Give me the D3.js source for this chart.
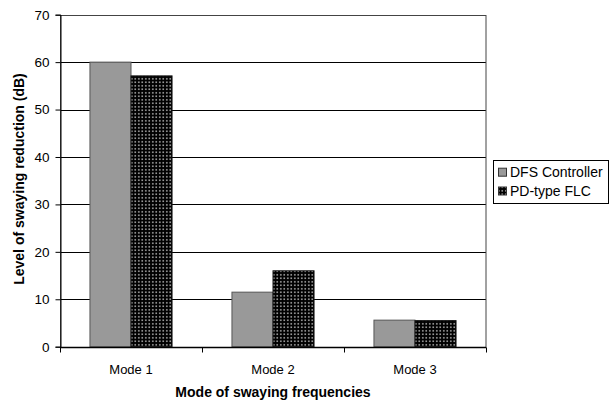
<!DOCTYPE html>
<html><head><meta charset="utf-8">
<script src="https://cdn.jsdelivr.net/npm/d3@7"></script>
<style>body{margin:0;background:#fff;} svg{display:block;font-family:"Liberation Sans",Arial,sans-serif;}</style>
</head><body>
<svg id="c" width="613" height="401"></svg>
<script>
const categories = ["Mode 1", "Mode 2", "Mode 3"];
const seriesNames = ["DFS Controller", "PD-type FLC"];
const dfsValues = [60, 11.5, 5.6];
const pdValues = [57.1, 16.0, 5.5];
const yTicks = [0, 10, 20, 30, 40, 50, 60, 70];

(function(){
const svg = d3.select("#c");
const pLeft = 60, pRight = 486, pTop = 14.7, pBottom = 346.7;
const FONT = "'Liberation Sans', Arial, sans-serif";

const defs = svg.append("defs");
const pat = defs.append("pattern").attr("id","dots").attr("patternUnits","userSpaceOnUse")
  .attr("width",3.5).attr("height",3.5);
pat.append("rect").attr("width",3.5).attr("height",3.5).attr("fill","#000");
pat.append("rect").attr("x",1).attr("y",1).attr("width",1.6).attr("height",1.6).attr("fill","#a8a8a8");

const x0 = d3.scaleBand().domain(categories).range([pLeft, pRight]).paddingInner(0).paddingOuter(0);
const x1 = d3.scaleBand().domain(seriesNames).range([0, x0.bandwidth()]).paddingInner(0).paddingOuter(0.73);
const y = d3.scaleLinear().domain([0, 70]).range([pBottom, pTop]);

svg.append("g").selectAll("line").data(yTicks.filter(d=>d>0)).join("line")
  .attr("x1", pLeft).attr("x2", pRight)
  .attr("y1", d=>Math.round(y(d))+0.5).attr("y2", d=>Math.round(y(d))+0.5)
  .attr("stroke","#000").attr("stroke-width",1);

svg.append("rect").attr("x",pLeft+0.5).attr("y",Math.round(pTop)+0.5)
  .attr("width",pRight-pLeft-0.5).attr("height",Math.round(pBottom)-Math.round(pTop))
  .attr("fill","none").attr("stroke","#444").attr("stroke-width",1);

const data = categories.map((c,i)=>({cat:c, vals:[{s:seriesNames[0], v:dfsValues[i]},{s:seriesNames[1], v:pdValues[i]}]}));
const fills = {"DFS Controller":"#999999","PD-type FLC":"url(#dots)"};

const groups = svg.append("g").selectAll("g").data(data).join("g")
  .attr("transform", d=>`translate(${x0(d.cat)},0)`);
groups.selectAll("rect").data(d=>d.vals).join("rect")
  .attr("x", d=>x1(d.s)).attr("width", x1.bandwidth())
  .attr("y", d=>y(d.v)).attr("height", d=>y(0)-y(d.v))
  .attr("fill", d=>fills[d.s])
  .attr("stroke", d=> d.s==="DFS Controller" ? "#555" : "#111").attr("stroke-width",1);

const yAxis = d3.axisLeft(y).tickValues(yTicks).tickSize(5).tickPadding(6).tickFormat(d3.format("d"));
const ya = svg.append("g").attr("transform",`translate(${pLeft+0.5},0)`).call(yAxis);
ya.select(".domain").attr("stroke","#000");
ya.selectAll(".tick line").attr("stroke","#000");
ya.selectAll("text").attr("font-size","13.5px").attr("fill","#000").attr("font-family",FONT);

const xa = svg.append("g").attr("transform",`translate(0,${Math.round(pBottom)+0.5})`);
xa.append("line").attr("x1",pLeft).attr("x2",pRight).attr("stroke","#000").attr("stroke-width",1.5);
const bounds = [pLeft, ...categories.map(c=>x0(c)+x0.bandwidth())];
xa.selectAll("line.t").data(bounds).join("line").attr("class","t")
  .attr("x1",d=>Math.round(d)+0.5).attr("x2",d=>Math.round(d)+0.5).attr("y1",0).attr("y2",5).attr("stroke","#000");
xa.selectAll("text").data(categories).join("text")
  .attr("x", d=>x0(d)+x0.bandwidth()/2).attr("y", 26.5)
  .attr("text-anchor","middle").attr("font-size","13px").attr("fill","#000").attr("font-family",FONT).text(d=>d);

svg.append("text").attr("x",(pLeft+pRight)/2).attr("y",397).attr("text-anchor","middle")
  .attr("font-family",FONT).attr("font-size","14px").attr("font-weight","bold").text("Mode of swaying frequencies");
svg.append("text").attr("transform",`translate(24,179) rotate(-90)`)
  .attr("text-anchor","middle").attr("font-family",FONT).attr("font-size","14px").attr("font-weight","bold")
  .text("Level of swaying reduction (dB)");

const lg = svg.append("g");
lg.append("rect").attr("x",493.5).attr("y",160.5).attr("width",115).attr("height",43)
  .attr("fill","#fff").attr("stroke","#000");
seriesNames.forEach((s,i)=>{
  const base = 176.7 + i*18.8;
  lg.append("rect").attr("x",498.5).attr("y",base-8.5).attr("width",8).attr("height",8)
    .attr("fill",fills[s]).attr("stroke","#333");
  lg.append("text").attr("x",510).attr("y",base).attr("font-family",FONT).attr("font-size","14px").attr("fill","#000").text(s);
});
})();
</script>
</body></html>
